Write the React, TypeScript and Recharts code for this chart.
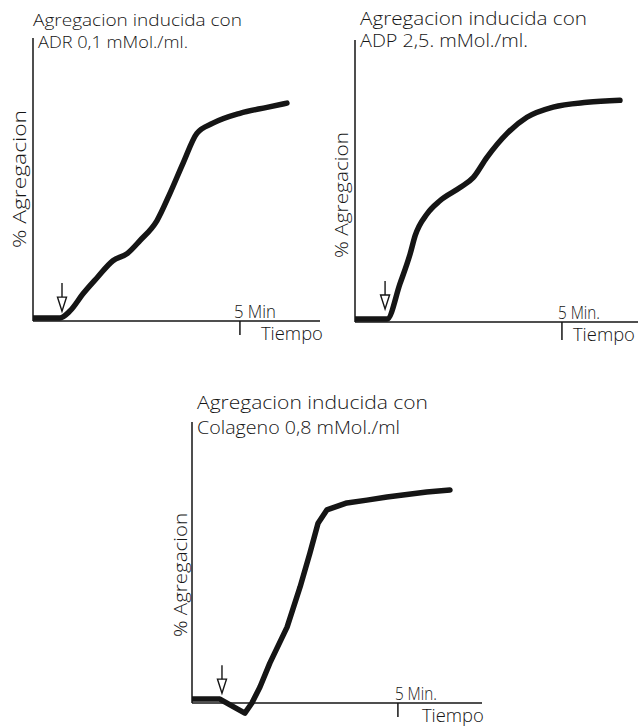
import React from 'react';
import { LineChart, Line, XAxis, YAxis, ReferenceLine, ReferenceDot } from 'recharts';

// time in minutes after adding the agonist (arrow = 0), aggregation in %
const adrTime = [-0.81, -0.06, 0.22, 0.59, 0.98, 1.43, 1.83, 2.19, 2.67, 3.03, 3.4, 3.79, 4.24, 5.0, 5.76, 6.32];
const adrAgg = [1.1, 1.1, 3.5, 9.6, 15.2, 21.3, 23.8, 28.4, 35.5, 45, 55.7, 66.3, 69.9, 73.4, 75.5, 77];

const adpTime = [-0.85, 0.06, 0.42, 0.71, 0.85, 1.19, 1.55, 2.12, 2.49, 2.88, 3.45, 4.01, 4.75, 5.71, 6.64];
const adpAgg = [1.1, 1.1, 13.5, 24.2, 30.6, 38.4, 43, 47.7, 51.2, 58.4, 66.9, 72.6, 76.2, 77.9, 78.6];

const colTime = [-0.85, -0.06, 0.23, 0.65, 0.85, 1.08, 1.36, 1.85, 2.22, 2.5, 2.73, 2.98, 3.55, 4.12, 4.69, 5.82, 6.48];
const colAgg = [1.4, 1.4, -0.7, -3.6, 0, 5.7, 14.2, 27, 41.3, 53.4, 64, 68.7, 71.2, 72.2, 73.3, 75.1, 75.8];

const titleLine1 = 'Agregacion inducida con';
const adrTitle = 'ADR 0,1 mMol./ml.';
const adpTitle = 'ADP 2,5. mMol./ml.';
const colTitle = 'Colageno 0,8 mMol./ml';
const yLabel = '% Agregacion';
const xLabel = 'Tiempo';
const scaleMinutes = 5;
const arrowTips = [3.5, 4.6, 3.5];

const toRows = (t: number[], v: number[]) => t.map((x, i) => ({ t: x, v: v[i] }));

const FONT = '"Open Sans", "Liberation Sans", Arial, sans-serif';
const INK = '#151515';
const Y_MIN = -6;

const ArrowMark = (props: any) => {
  const { cx, cy } = props;
  return (
    <g stroke={INK} strokeWidth={1.4} fill="none">
      <line x1={cx} y1={cy - 28} x2={cx} y2={cy - 14} />
      <path d={`M${cx - 4.5},${cy - 14} L${cx + 4.5},${cy - 14} L${cx},${cy} Z`} />
    </g>
  );
};

const makeScaleMark = (label: string, minDx: number, tDx: number, tickLen: number) => (props: any) => {
  const { cx, cy } = props;
  return (
    <g fontFamily={FONT} fontWeight={300} fill={INK}>
      <line x1={cx} y1={cy} x2={cx} y2={cy + tickLen} stroke={INK} strokeWidth={1.5} />
      <text x={cx + minDx} y={cy - 3} fontSize={18} textLength={42} lengthAdjust="spacingAndGlyphs">
        {label}
      </text>
      <text x={cx + tDx} y={cy + 19} fontSize={18} textLength={62} lengthAdjust="spacingAndGlyphs">
        {xLabel}
      </text>
    </g>
  );
};

type Cfg = {
  rows: { t: number; v: number }[];
  box: { left: number; top: number; width: number; height: number };
  plot: { left: number; top: number; right: number; base: number };
  xDomain: [number, number];
  curve: 'monotone' | 'linear';
  arrowTip: number;
  scaleLabel: string;
  minDx: number;
  tDx: number;
  tickLen: number;
  t1: { x: number; y: number; len: number; size: number };
  t2: { text: string; x: number; y: number; len: number; size: number };
  yl: { x: number; y: number; len: number };
};

const Panel = ({ c }: { c: Cfg }) => {
  const plotBottom = c.plot.base + ((c.plot.base - c.plot.top) * -Y_MIN) / 100;
  const margin = {
    top: c.plot.top - c.box.top,
    left: c.plot.left - c.box.left,
    right: c.box.left + c.box.width - c.plot.right,
    bottom: c.box.top + c.box.height - plotBottom,
  };
  const [x0, x1] = c.xDomain;
  return (
    <div style={{ position: 'absolute', left: c.box.left, top: c.box.top }}>
      <LineChart width={c.box.width} height={c.box.height} data={c.rows} margin={margin}>
        <XAxis type="number" dataKey="t" domain={c.xDomain} hide allowDataOverflow />
        <YAxis type="number" domain={[Y_MIN, 100]} hide allowDataOverflow />
        <ReferenceLine segment={[{ x: x0, y: 0 }, { x: x1, y: 0 }]} stroke={INK} strokeWidth={1.5} ifOverflow="visible" />
        <ReferenceLine segment={[{ x: x0, y: 0 }, { x: x0, y: 100 }]} stroke={INK} strokeWidth={1.5} ifOverflow="visible" />
        <Line
          type={c.curve}
          dataKey="v"
          stroke={INK}
          strokeWidth={5.5}
          strokeLinecap="round"
          strokeLinejoin="round"
          dot={false}
          isAnimationActive={false}
        />
        <ReferenceDot x={0} y={c.arrowTip} ifOverflow="visible" shape={ArrowMark} />
        <ReferenceDot
          x={scaleMinutes}
          y={0}
          ifOverflow="visible"
          shape={makeScaleMark(c.scaleLabel, c.minDx, c.tDx, c.tickLen)}
        />
        <text x={c.t1.x} y={c.t1.y} fontFamily={FONT} fontWeight={300} fontSize={c.t1.size} fill={INK} textLength={c.t1.len} lengthAdjust="spacingAndGlyphs">
          {titleLine1}
        </text>
        <text x={c.t2.x} y={c.t2.y} fontFamily={FONT} fontWeight={300} fontSize={c.t2.size} fill={INK} textLength={c.t2.len} lengthAdjust="spacingAndGlyphs">
          {c.t2.text}
        </text>
        <text
          x={c.yl.x}
          y={c.yl.y}
          transform={`rotate(-90 ${c.yl.x} ${c.yl.y})`}
          textAnchor="middle"
          fontFamily={FONT}
          fontWeight={300}
          fontSize={18}
          fill={INK}
          textLength={c.yl.len}
          lengthAdjust="spacingAndGlyphs"
        >
          {yLabel}
        </text>
      </LineChart>
    </div>
  );
};

const panels: Cfg[] = [
  {
    rows: toRows(adrTime, adrAgg),
    box: { left: 0, top: 0, width: 330, height: 360 },
    plot: { left: 33, top: 38, right: 320, base: 321 },
    xDomain: [-0.815, 7.25],
    curve: 'monotone',
    arrowTip: arrowTips[0],
    scaleLabel: '5 Min',
    minDx: -6,
    tDx: 21,
    tickLen: 14,
    t1: { x: 33, y: 26, len: 209, size: 17 },
    t2: { text: adrTitle, x: 38, y: 48, len: 150, size: 17 },
    yl: { x: 26, y: 179, len: 138 },
  },
  {
    rows: toRows(adpTime, adpAgg),
    box: { left: 320, top: 0, width: 320, height: 360 },
    plot: { left: 355, top: 40, right: 638, base: 322 },
    xDomain: [-0.85, 7.15],
    curve: 'monotone',
    arrowTip: arrowTips[1],
    scaleLabel: '5 Min.',
    minDx: -4,
    tDx: 11,
    tickLen: 18,
    t1: { x: 40, y: 25, len: 227, size: 18 },
    t2: { text: adpTitle, x: 40, y: 47, len: 168, size: 18 },
    yl: { x: 28, y: 195, len: 126 },
  },
  {
    rows: toRows(colTime, colAgg),
    box: { left: 150, top: 380, width: 340, height: 346 },
    plot: { left: 192, top: 422, right: 482, base: 703 },
    xDomain: [-0.852, 7.39],
    curve: 'linear',
    arrowTip: arrowTips[2],
    scaleLabel: '5 Min.',
    minDx: -3,
    tDx: 24,
    tickLen: 14,
    t1: { x: 47, y: 29, len: 231, size: 19 },
    t2: { text: colTitle, x: 47, y: 54, len: 203, size: 19 },
    yl: { x: 37, y: 195, len: 124 },
  },
];

export default function App() {
  return (
    <div style={{ position: 'absolute', left: 0, top: 0, width: 640, height: 726, background: '#fff' }}>
      {panels.map((c, i) => (
        <Panel key={i} c={c} />
      ))}
    </div>
  );
}
